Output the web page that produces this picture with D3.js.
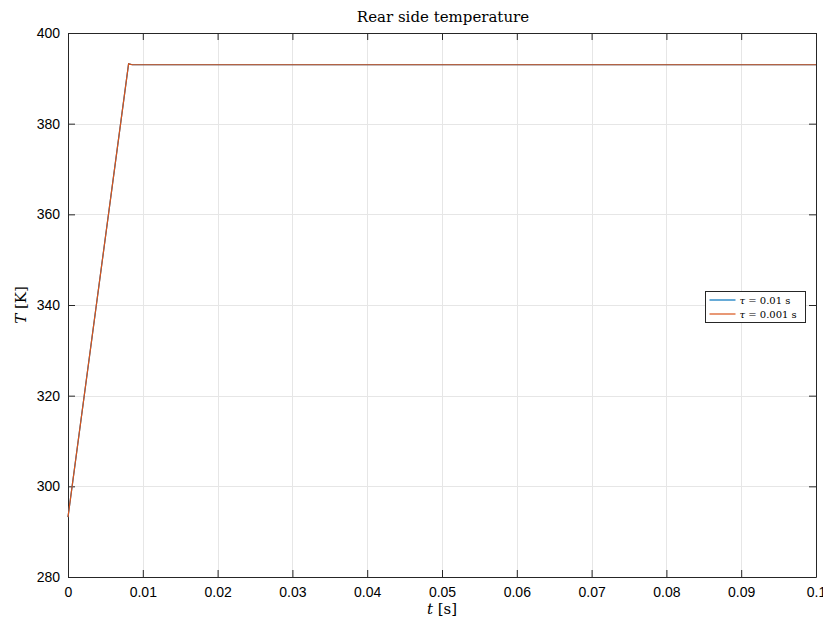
<!DOCTYPE html>
<html>
<head>
<meta charset="utf-8">
<script src="https://cdn.jsdelivr.net/npm/d3@7"></script>
<style>
  html, body { margin: 0; padding: 0; background: #fff; }
  svg { display: block; }
  .tick text { font-family: "Liberation Sans", Arial, sans-serif; font-size: 14px; fill: #000; }
  .serif { font-family: "DejaVu Serif", "Liberation Serif", serif; }
</style>
</head>
<body>
<svg id="chart" width="823" height="624"></svg>
<script>
// Time samples [s] and rear-side temperature [K] for each time step
const timeFine = [0, 0.0081, 0.0086, 0.1];
const tempFine = [293.2, 393.2, 393.0, 393.0];
const timeCoarse = [0, 0.0081, 0.0086, 0.1];
const tempCoarse = [293.2, 393.2, 393.0, 393.0];

const seriesNames = ["0.01 s", "0.001 s"];
const seriesColors = ["#0072BD", "#D95319"];

const xTicks = [0, 0.01, 0.02, 0.03, 0.04, 0.05, 0.06, 0.07, 0.08, 0.09, 0.1];
const yTicks = [280, 300, 320, 340, 360, 380, 400];

const margin = { left: 68, right: 7, top: 33, bottom: 47 };
const W = 823, H = 624;
const svg = d3.select("#chart");

const x = d3.scaleLinear().domain([0, 0.1]).range([margin.left, W - margin.right]);
const y = d3.scaleLinear().domain([280, 400]).range([H - margin.bottom, margin.top]);

// grid
const grid = svg.append("g").attr("stroke", "#e6e6e6").attr("stroke-width", 1);
grid.selectAll(".gx").data(xTicks.slice(1, -1)).join("line")
  .attr("x1", d => Math.round(x(d)) + 0.5).attr("x2", d => Math.round(x(d)) + 0.5)
  .attr("y1", y(400)).attr("y2", y(280));
grid.selectAll(".gy").data(yTicks.slice(1, -1)).join("line")
  .attr("y1", d => Math.round(y(d)) + 0.5).attr("y2", d => Math.round(y(d)) + 0.5)
  .attr("x1", x(0)).attr("x2", x(0.1));

// axes with inward ticks
const fmtX = d => d === 0 ? "0" : d3.format(".2~f")(d);
const axBottom = svg.append("g").attr("transform", `translate(0,${y(280)})`)
  .call(d3.axisBottom(x).tickValues(xTicks).tickFormat(fmtX).tickSizeInner(-7).tickSizeOuter(0).tickPadding(10));
const axLeft = svg.append("g").attr("transform", `translate(${x(0)},0)`)
  .call(d3.axisLeft(y).tickValues(yTicks).tickSizeInner(-7).tickSizeOuter(0).tickPadding(8));
const axTop = svg.append("g").attr("transform", `translate(0,${y(400)})`)
  .call(d3.axisTop(x).tickValues(xTicks).tickFormat("").tickSizeInner(-7).tickSizeOuter(0));
const axRight = svg.append("g").attr("transform", `translate(${x(0.1)},0)`)
  .call(d3.axisRight(y).tickValues(yTicks).tickFormat("").tickSizeInner(-7).tickSizeOuter(0));
[axBottom, axLeft, axTop, axRight].forEach(g => {
  g.selectAll("path.domain").attr("stroke", "#262626").attr("stroke-width", 1);
  g.selectAll(".tick line").attr("stroke", "#262626");
});
axBottom.selectAll(".tick text").attr("dy", "0.71em");

// lines
const line = d3.line().x(d => x(d[0])).y(d => y(d[1]));
const series = [
  d3.zip(timeFine, tempFine),
  d3.zip(timeCoarse, tempCoarse)
];
svg.append("g").attr("fill", "none").attr("stroke-width", 1.2)
  .selectAll("path").data(series).join("path")
  .attr("stroke", (d, i) => seriesColors[i])
  .attr("d", line);

// title and labels
svg.append("text").attr("class", "serif").attr("x", 443).attr("y", 22)
  .attr("text-anchor", "middle").attr("font-size", 15).text("Rear side temperature");

const xl = svg.append("text").attr("class", "serif").attr("x", 442).attr("y", 614)
  .attr("text-anchor", "middle").attr("font-size", 15);
xl.append("tspan").attr("font-style", "italic").text("t");
xl.append("tspan").text(" [s]");

const yl = svg.append("text").attr("class", "serif")
  .attr("transform", `translate(26,${(y(280) + y(400)) / 2}) rotate(-90)`)
  .attr("text-anchor", "middle").attr("font-size", 15);
yl.append("tspan").attr("font-style", "italic").text("T");
yl.append("tspan").text(" [K]");

// legend
const lg = svg.append("g").attr("transform", "translate(705.5,291.5)");
lg.append("rect").attr("width", 100).attr("height", 31).attr("fill", "#fff")
  .attr("stroke", "#262626").attr("stroke-width", 1);
seriesNames.forEach((n, i) => {
  const yy = 8.5 + i * 14;
  lg.append("line").attr("x1", 4).attr("x2", 30).attr("y1", yy).attr("y2", yy)
    .attr("stroke", seriesColors[i]).attr("stroke-width", 1.2);
  const t = lg.append("text").attr("class", "serif").attr("x", 34).attr("y", yy + 3.5)
    .attr("font-size", 10);
  t.append("tspan").attr("font-style", "italic").text("τ");
  t.append("tspan").text(" = " + n);
});
</script>
</body>
</html>
